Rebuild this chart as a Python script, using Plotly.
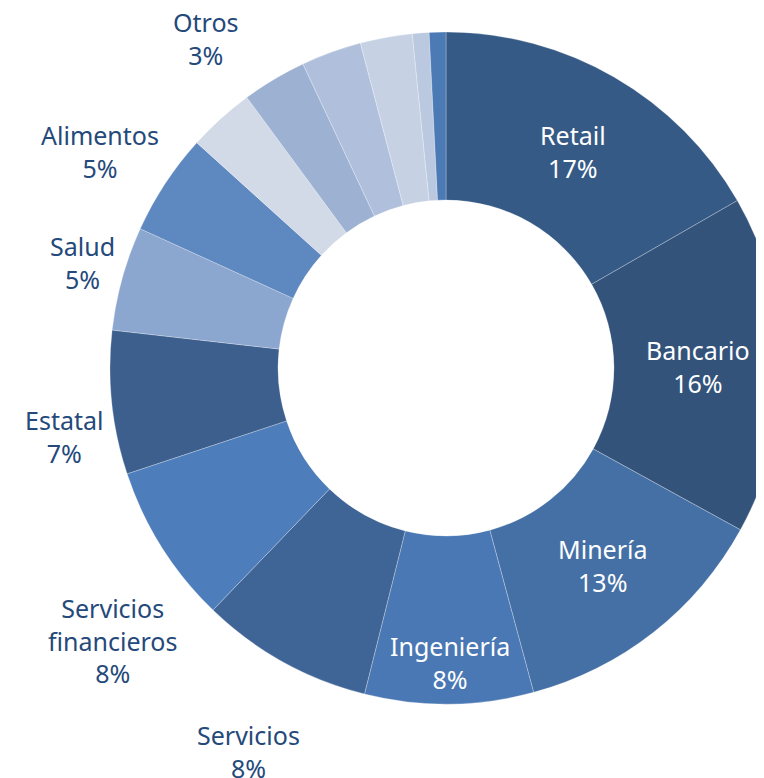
import plotly.graph_objects as go

# ---- data ----
sectors = ["Retail", "Bancario", "Minería", "Ingeniería", "Servicios",
           "Servicios financieros", "Estatal", "Salud", "Alimentos",
           "Otros", "Otros 2", "Otros 3", "Otros 4", "Otros 5", "Otros 6"]
shares = [16.7, 16.3, 12.8, 8.1, 8.3, 7.7, 6.9, 5.0, 4.9,
          3.2, 3.1, 2.9, 2.5, 0.8, 0.8]
label_text = ["Retail", "Bancario", "Minería", "Ingeniería", "Servicios",
              "Servicios<br>financieros", "Estatal", "Salud", "Alimentos",
              "Otros", None, None, None, None, None]

# ---- styles ----
colors = ["#365a86", "#33537b", "#4570a5", "#4a78b4", "#3f6597",
          "#4d7dba", "#3c5f8e", "#8ba6cf", "#5e88c0", "#d2dae8",
          "#9db1d3", "#afbfdc", "#c6d2e4", "#bac8e0", "#4c7ab5"]
inside = [True, True, True, True, False, False, False, False, False, False]
OFF = 8  # page body margin
# label centres in screen pixels (x, y from top)
label_pos = [(573, 151), (698, 366), (602, 565), (450, 662), (248, 751),
             (113, 640), (64, 436), (82, 262), (100, 151), (205, 38)]

W, H = 790, 778
cx, cy, R = 446 - OFF, 368 - OFF, 336

fig = go.Figure(go.Pie(
    labels=sectors, values=shares, sort=False, direction="clockwise",
    rotation=0, hole=0.5, textinfo="none", hoverinfo="label+percent",
    marker=dict(colors=colors, line=dict(color="rgba(255,255,255,0.45)", width=0.6)),
    domain=dict(x=[(cx - R) / W, (cx + R) / W], y=[1 - (cy + R) / H, 1 - (cy - R) / H]),
    showlegend=False,
))

annotations = []
for i, (txt, (px, py)) in enumerate(zip(label_text[:len(label_pos)], label_pos)):
    pct = f"{round(shares[i]):.0f}%"
    annotations.append(dict(
        x=(px - OFF) / W, y=1 - (py - OFF) / H, xref="paper", yref="paper",
        text=f"{txt}<br>{pct}", showarrow=False, xanchor="center", yanchor="middle",
        font=dict(family="Noto Sans", size=25, color="#ffffff" if inside[i] else "#24497a"),
    ))

fig.update_layout(
    width=W, height=H, margin=dict(l=0, r=0, t=0, b=0),
    paper_bgcolor="white", plot_bgcolor="white",
    annotations=annotations,
)

fig.write_html("out.html")
